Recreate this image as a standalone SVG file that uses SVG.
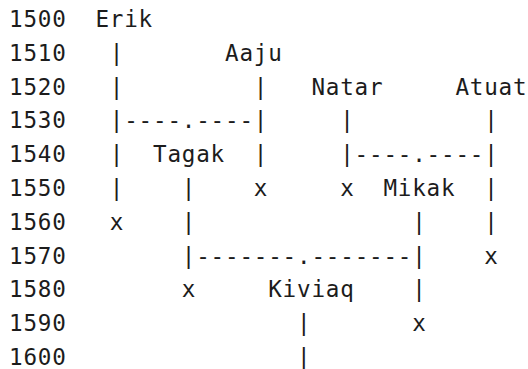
<svg xmlns="http://www.w3.org/2000/svg" width="528" height="369" viewBox="0 0 528 369">
<style>
text { font-family: "DejaVu Sans Mono", "Liberation Mono", monospace; font-size: 22.6px; letter-spacing: 0.8px; fill: #1c1c1c; }
</style>
<rect x="0" y="0" width="528" height="369" fill="#ffffff"/>
<g id="years">
<text x="9" y="27">1500</text>
<text x="9" y="60.8">1510</text>
<text x="9" y="94.6">1520</text>
<text x="9" y="128.4">1530</text>
<text x="9" y="162.2">1540</text>
<text x="9" y="196">1550</text>
<text x="9" y="229.8">1560</text>
<text x="9" y="263.6">1570</text>
<text x="9" y="297.4">1580</text>
<text x="9" y="331.2">1590</text>
<text x="9" y="364.5">1600</text>
</g>
<g id="node-erik"><text x="95.4" y="27">Erik</text></g>
<g id="node-aaju"><text x="225" y="60.8">Aaju</text></g>
<g id="node-natar"><text x="311.4" y="94.6">Natar</text></g>
<g id="node-atuat"><text x="455.4" y="94.6">Atuat</text></g>
<g id="node-tagak"><text x="153" y="162.2">Tagak</text></g>
<g id="node-mikak"><text x="383.4" y="196">Mikak</text></g>
<g id="node-kiviaq"><text x="268.2" y="297.4">Kiviaq</text></g>
<g id="connectors">
<text x="109.8" y="60.8">|</text>
<text x="109.8" y="94.6">|</text>
<text x="253.8" y="94.6">|</text>
<text x="109.8" y="128.4">|----.----|</text>
<text x="340.2" y="128.4">|</text>
<text x="484.2" y="128.4">|</text>
<text x="109.8" y="162.2">|</text>
<text x="253.8" y="162.2">|</text>
<text x="340.2" y="162.2">|----.----|</text>
<text x="109.8" y="196">|</text>
<text x="181.8" y="196">|</text>
<text x="253.8" y="196">x</text>
<text x="340.2" y="196">x</text>
<text x="484.2" y="196">|</text>
<text x="109.8" y="229.8">x</text>
<text x="181.8" y="229.8">|</text>
<text x="412.2" y="229.8">|</text>
<text x="484.2" y="229.8">|</text>
<text x="181.8" y="263.6">|-------.-------|</text>
<text x="484.2" y="263.6">x</text>
<text x="181.8" y="297.4">x</text>
<text x="412.2" y="297.4">|</text>
<text x="297" y="331.2">|</text>
<text x="412.2" y="331.2">x</text>
<text x="297" y="364.5">|</text>
</g>
</svg>
